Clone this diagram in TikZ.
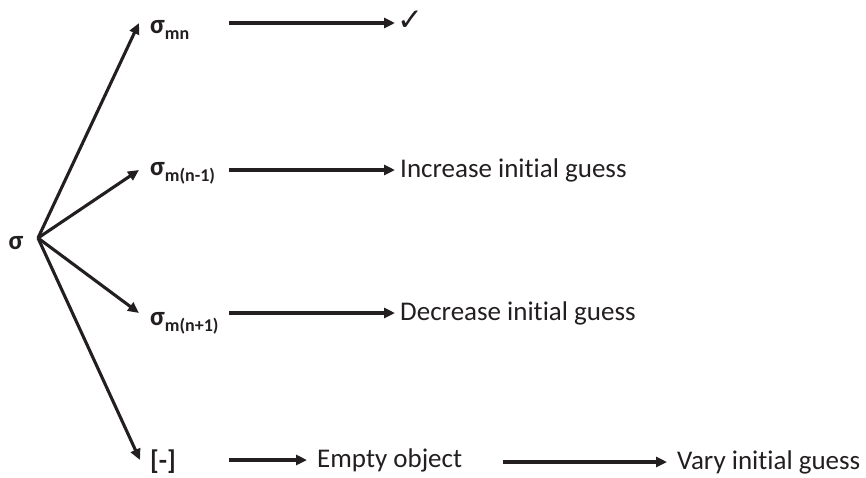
\documentclass[tikz,border=0pt]{standalone}
\usepackage{fontspec}
\setmainfont[RawFeature={-liga;-calt}]{Carlito}
\newfontfamily\symfont{DejaVu Sans}
\usetikzlibrary{arrows.meta}
\definecolor{ink}{HTML}{231F20}
\tikzset{
  arr/.style={draw=ink, line width=3.1pt, -{Triangle[length=11pt,width=10pt]}},
  lab/.style={anchor=base west, inner sep=0pt, text=ink, font=\fontsize{27}{27}\selectfont\bfseries},
  res/.style={anchor=west, inner sep=0pt, text=ink, font=\fontsize{27}{27}\selectfont},
}
\newcommand{\sub}[1]{\raisebox{-6pt}{\fontsize{18}{18}\selectfont\bfseries #1}}
\begin{document}
\begin{tikzpicture}[x=1pt,y=-1pt]
\useasboundingbox (0,0) rectangle (866,477);
\node[lab, anchor=base] (s) at (16,249) {σ};
\coordinate (o) at (38,238);
\node[lab] (a) at (150,33) {σ\sub{mn}};
\node[lab] (b) at (150,175) {σ\sub{m(n-1)}};
\node[lab] (c) at (150,325) {σ\sub{m(n+1)}};
\node[lab] (d) at (150,469) {[-]};
\coordinate (x0) at (229,0);
\node[res, font=\fontsize{31}{31}\symfont] (ra) at (397,21) {✓};
\node[res] (rb) at (400,170) {Increase initial guess};
\node[res] (rc) at (400,313) {Decrease initial guess};
\node[res] (rd) at (317,460) {Empty object};
\node[res] (re) at (677,462) {Vary initial guess};
\draw[arr] (o) -- ([xshift=-11pt,yshift=10pt]a.base west);
\draw[arr] (o) -- ([xshift=-11pt,yshift=5pt]b.base west);
\draw[arr] (o) -- ([xshift=-11pt,yshift=12pt]c.base west);
\draw[arr] (o) -- ([xshift=-10pt,yshift=9pt]d.base west);
\draw[arr] (x0 |- ra.west) ++(0,2) -- ([xshift=-2pt,yshift=-2pt]ra.west);
\draw[arr] (x0 |- rb.west) -- ([xshift=-5pt]rb.west);
\draw[arr] (x0 |- rc.west) -- ([xshift=-5pt]rc.west);
\draw[arr] (x0 |- rd.west) -- ([xshift=-10pt]rd.west);
\draw[arr] (503,462) coordinate (e0) -- ([xshift=-10pt]re.west);
\end{tikzpicture}
\end{document}
